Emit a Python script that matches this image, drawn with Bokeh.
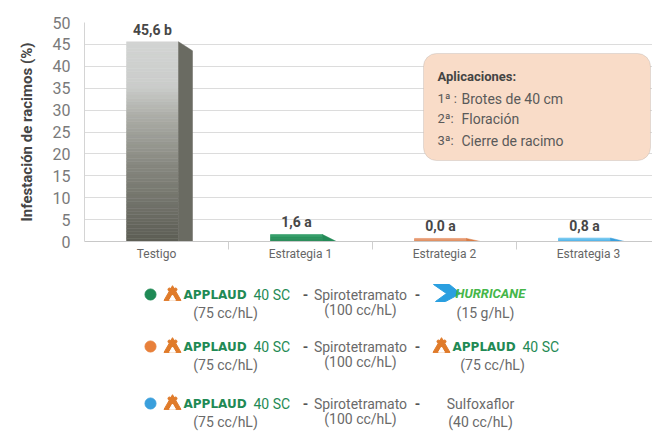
import numpy as np
from bokeh.plotting import figure
from bokeh.layouts import column
from bokeh.models import Range1d, FixedTicker, BoxAnnotation, Label
from bokeh.core.properties import value
from bokeh.embed import file_html
from bokeh.resources import INLINE

# ---------------- data ----------------
categories = ["Testigo", "Estrategia 1", "Estrategia 2", "Estrategia 3"]
infestation = [45.6, 1.6, 0.0, 0.8]
letters = ["b", "a", "a", "a"]
y_ticks = [0, 5, 10, 15, 20, 25, 30, 35, 40, 45, 50]

aplicaciones_title = "Aplicaciones:"
aplicaciones_num = ["1ª :", "2ª:", "3ª:"]
aplicaciones = ["Brotes de 40 cm", "Floración", "Cierre de racimo"]

strategy_colors = ["#1f8a55", "#e8803a", "#3a9fdc"]
prod1 = ["APPLAUD 40 SC", "APPLAUD 40 SC", "APPLAUD 40 SC"]
dose1 = ["(75 cc/hL)", "(75 cc/hL)", "(75 cc/hL)"]
prod2 = ["Spirotetramato", "Spirotetramato", "Spirotetramato"]
dose2 = ["(100 cc/hL)", "(100 cc/hL)", "(100 cc/hL)"]
prod3 = ["HURRICANE", "APPLAUD 40 SC", "Sulfoxaflor"]
dose3 = ["(15 g/hL)", "(75 cc/hL)", "(40 cc/hL)"]

# ---------------- styles ----------------
FONT_NAME = "Roboto"
FONT = value(FONT_NAME)
front_top = ["#d2d4d3", "#34a06a", "#eca783", "#84cff2"]
front_bot = ["#5c5d54", "#1f8550", "#de8d5f", "#4fb3e8"]
side_col = ["#6a6b62", "#238a57", "#d87c46", "#3a9fdc"]

W, H_TOP, H_LEG = 652, 270, 163
LEFT, TOP, BOTTOM = 84, 22, 29
CAT_PX = 144.0
frame_w = W - LEFT
frame_h = H_TOP - TOP - BOTTOM
ppx = 1.0 / CAT_PX            # data units per px (x)
ppy = 50.0 / frame_h          # data units per px (y)
ZERO_Y = H_TOP - BOTTOM       # page y of the zero line

p = figure(width=W, height=H_TOP, x_range=Range1d(0, frame_w / CAT_PX), y_range=Range1d(0, 50),
           toolbar_location=None, output_backend="svg",
           min_border_left=LEFT, min_border_right=0, min_border_top=TOP, min_border_bottom=BOTTOM)
p.outline_line_color = None
p.xgrid.grid_line_color = None
p.ygrid.grid_line_color = "#dcdcdc"
p.ygrid.ticker = FixedTicker(ticks=y_ticks)

# y axis
p.yaxis.ticker = FixedTicker(ticks=y_ticks)
p.yaxis.axis_line_color = "#d4d4d4"
p.yaxis.major_tick_line_color = None
p.yaxis.minor_tick_line_color = None
p.yaxis.major_label_text_font = FONT_NAME
p.yaxis.major_label_text_font_size = "16px"
p.yaxis.major_label_text_color = "#7a7a7a"
p.yaxis.major_label_standoff = 8
p.yaxis.axis_label = "Infestación de racimos (%)"
p.yaxis.axis_label_text_font = FONT_NAME
p.yaxis.axis_label_text_font_style = "bold"
p.yaxis.axis_label_text_font_size = "15px"
p.yaxis.axis_label_text_color = "#454545"
p.yaxis.axis_label_standoff = 14

# x axis
centers = [i + 0.5 for i in range(len(categories))]
p.xaxis.ticker = FixedTicker(ticks=centers, minor_ticks=[1, 2, 3])
p.xaxis.major_label_overrides = {c: name for c, name in zip(centers, categories)}
p.xaxis.axis_line_color = "#c8c8c8"
p.xaxis.major_tick_line_color = None
p.xaxis.minor_tick_line_color = "#cfcfcf"
p.xaxis.minor_tick_in = 0
p.xaxis.minor_tick_out = 8
p.xaxis.major_label_text_font = FONT_NAME
p.xaxis.major_label_text_font_size = "12px"
p.xaxis.major_label_text_color = "#666666"
p.xaxis.major_label_standoff = -3

# bars (3D-looking)
front_w = 52 * ppx
side_w = 14 * ppx
side_dy = 9 * ppy
min_h = 0.7
front_off = -4 * ppx


def hex2rgb(h):
    return np.array([int(h[i:i + 2], 16) for i in (1, 3, 5)], dtype=float)


def rgb2hex(c):
    return "#%02x%02x%02x" % tuple(int(round(v)) for v in c)


testigo_stops = [(0.0, "#d2d4d3"), (0.22, "#cbcdcb"), (0.38, "#abaca6"), (0.62, "#86877f"), (1.0, "#5c5d54")]

side_xs, side_ys, side_colors = [], [], []
lbl_x, lbl_y, lbl_t = [], [], []
for i, (v, let) in enumerate(zip(infestation, letters)):
    h = max(v, min_h)
    x0 = centers[i] + front_off - front_w / 2
    x1 = x0 + front_w
    n = 60 if i == 0 else 8
    edges = np.linspace(h, 0, n + 1)
    cols = []
    for k in range(n):
        t = (k + 0.5) / n
        if i == 0:
            for (ta, ca), (tb, cb) in zip(testigo_stops[:-1], testigo_stops[1:]):
                if ta <= t <= tb:
                    f = (t - ta) / (tb - ta)
                    cols.append(rgb2hex(hex2rgb(ca) * (1 - f) + hex2rgb(cb) * f))
                    break
        else:
            cols.append(rgb2hex(hex2rgb(front_top[i]) * (1 - t) + hex2rgb(front_bot[i]) * t))
    p.quad(left=x0, right=x1, top=edges[:-1], bottom=edges[1:], fill_color=cols, line_color=cols, line_width=0.5)
    side_xs.append([x1, x1 + side_w, x1 + side_w, x1])
    side_ys.append([h, max(h - side_dy, 0), 0, 0])
    side_colors.append(side_col[i])
    lbl_x.append((x0 + x1) / 2)
    lbl_y.append(h)
    lbl_t.append(f"{v:.1f}".replace(".", ",") + " " + let)

p.patches(xs=side_xs, ys=side_ys, fill_color=side_colors, line_color=side_colors, line_width=0.5)
p.text(x=lbl_x, y=lbl_y, text=lbl_t, text_align="center", text_baseline="bottom", y_offset=-4,
       text_font=FONT, text_font_style="bold", text_font_size="14px", text_color="#474747")

# annotation box (page px -> data)
box_l, box_r = (423 - LEFT) * ppx, (650 - LEFT) * ppx
box_t, box_b = (ZERO_Y - 53) * ppy, (ZERO_Y - 160) * ppy
p.add_layout(BoxAnnotation(left=box_l, right=box_r, top=box_t, bottom=box_b, border_radius=13,
                           fill_color="#f9dcc8", fill_alpha=1.0, line_color="#a9a9a9", line_width=1))
tx = box_l + 14 * ppx
tx2 = box_l + 38 * ppx
line_px = [23, 45, 65, 87]
p.add_layout(Label(x=tx, y=box_t - line_px[0] * ppy, text=aplicaciones_title, text_baseline="middle",
                   text_font=FONT_NAME, text_font_size="13px", text_font_style="bold", text_color="#444444"))
for j, (num, txt) in enumerate(zip(aplicaciones_num, aplicaciones)):
    yy = box_t - line_px[j + 1] * ppy
    p.add_layout(Label(x=tx, y=yy, text=num, text_baseline="middle",
                       text_font=FONT_NAME, text_font_size="13px", text_color="#5a5a5a"))
    p.add_layout(Label(x=tx2, y=yy, text=txt, text_baseline="middle",
                       text_font=FONT_NAME, text_font_size="14px", text_color="#5a5a5a"))

# ---------------- legend figure (page px coordinates) ----------------
q = figure(width=W, height=H_LEG, x_range=Range1d(LEFT, W), y_range=Range1d(H_TOP + H_LEG, H_TOP),
           toolbar_location=None, output_backend="svg", x_axis_type=None, y_axis_type=None,
           min_border_left=LEFT, min_border_right=0, min_border_top=0, min_border_bottom=0)
q.outline_line_color = None
q.xgrid.visible = False
q.ygrid.visible = False

row_y = [294, 346, 403]
sub_dy = 18
dose3_x = [485, 492, 480]
GREEN = "#1f8a55"
ORANGE = "#e07b2a"
GRAY = "#6a6a6a"


def applaud(x, y):
    q.scatter([x], [y + 1], marker="triangle", size=17, color=ORANGE)
    q.scatter([x], [y + 4], marker="triangle", size=6, color="white")
    q.scatter([x - 3, x + 3], [y - 5, y - 5], size=3, color=ORANGE)
    q.text([x + 11], [y], text=["APPLAUD"], text_baseline="middle", text_font=value("DejaVu Sans"),
           text_font_style="bold", text_font_size="12px", text_color=GREEN)
    q.text([x + 81], [y], text=["40 SC"], text_baseline="middle", text_font=FONT,
           text_font_size="14px", text_color=GREEN)


def hurricane(x, y):
    pts = [(0, -8), (16, -8), (27, 1), (12, 9), (2, 9), (13, 1)]
    q.patch([x + a for a, b in pts], [y + b for a, b in pts], color="#2a9fe0")
    q.text([x + 22], [y + 1], text=["HURRICANE"], text_baseline="middle", text_font=FONT,
           text_font_style="bold italic", text_font_size="13px", text_color="#45b649")


for r in range(3):
    y = row_y[r]
    q.scatter([150], [y], size=11, color=strategy_colors[r])
    applaud(172, y)
    q.text([225], [y + sub_dy], text=[dose1[r]], text_align="center", text_baseline="middle",
           text_font=FONT, text_font_size="14px", text_color=GRAY)
    q.text([305, 417], [y, y], text=["-", "-"], text_align="center", text_baseline="middle",
           text_font=FONT, text_font_style="bold", text_font_size="14px", text_color="#555555")
    q.text([360], [y], text=[prod2[r]], text_align="center", text_baseline="middle",
           text_font=FONT, text_font_size="14px", text_color=GRAY)
    q.text([360], [y + sub_dy - 3], text=[dose2[r]], text_align="center", text_baseline="middle",
           text_font=FONT, text_font_size="14px", text_color=GRAY)
    if prod3[r] == "HURRICANE":
        hurricane(433, y - 2)
    elif prod3[r].startswith("APPLAUD"):
        applaud(441, y)
    else:
        q.text([dose3_x[r]], [y], text=[prod3[r]], text_align="center", text_baseline="middle",
               text_font=FONT, text_font_size="14px", text_color=GRAY)
    q.text([dose3_x[r]], [y + sub_dy], text=[dose3[r]], text_align="center", text_baseline="middle",
           text_font=FONT, text_font_size="14px", text_color=GRAY)

layout = column(p, q, spacing=0)
open("out.html", "w").write(file_html(layout, INLINE))
